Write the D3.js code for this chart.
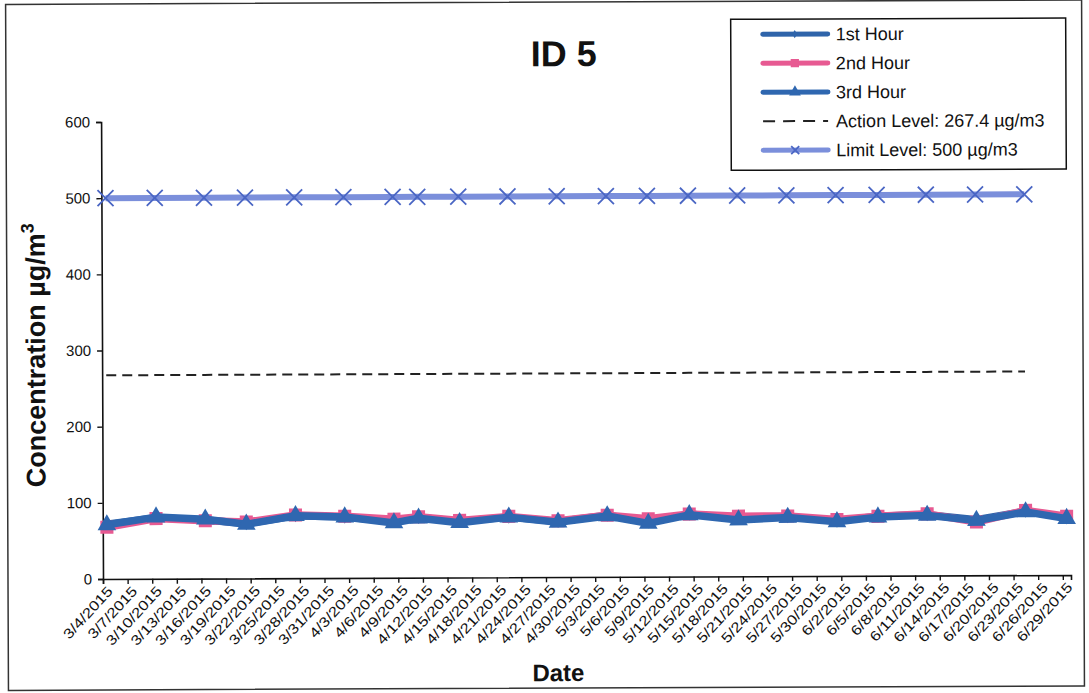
<!DOCTYPE html>
<html>
<head>
<meta charset="utf-8">
<script src="https://cdn.jsdelivr.net/npm/d3@7"></script>
<style>
body { margin: 0; background: #fff; }
text { font-family: Arial, "Liberation Sans", sans-serif; }
</style>
</head>
<body>
<div id="chart"></div>
<script>
// sample days (1-in-6 schedule with a couple of make-ups)
var sampleDates = ["3/4/2015", "3/10/2015", "3/16/2015", "3/21/2015", "3/27/2015", "4/2/2015",
	"4/8/2015", "4/11/2015", "4/16/2015", "4/22/2015", "4/28/2015", "5/4/2015", "5/9/2015",
	"5/14/2015", "5/20/2015", "5/26/2015", "6/1/2015", "6/6/2015", "6/12/2015", "6/18/2015",
	"6/24/2015", "6/29/2015"];
var hour1 = [72, 80, 77, 72, 82, 80, 74, 79, 74, 79, 73, 81, 72, 82, 76, 78, 72, 78, 80, 73, 84, 75];
var hour2 = [68, 79, 76, 74, 83, 81, 77, 80, 75, 80, 74, 81, 76, 82, 79, 79, 74, 78, 81, 70, 85, 77];
var hour3 = [71, 81, 78, 71, 82, 80, 72, 78, 72, 79, 72, 80, 70, 81, 74, 77, 71, 77, 79, 72, 83, 74];
var actionLevel = 267.4;
var limitLevel = 500;
var limitCount = 21; // level lines stop at 6/24
var yTicks = [0, 100, 200, 300, 400, 500, 600];
var legendLabels = ["1st Hour", "2nd Hour", "3rd Hour", "Action Level: 267.4 \u00b5g/m3", "Limit Level: 500 \u00b5g/m3"];

var W = 1089, H = 693;
var parse = d3.timeParse("%m/%d/%Y");
var fmt = d3.timeFormat("%-m/%-d/%Y");
var dates = sampleDates.map(parse);
var start = parse("3/4/2015"), end = parse("6/30/2015");
var tickDates = d3.timeDay.range(start, end, 3);

var x = d3.scaleTime().domain([start, end]).range([103, 1071]);
var y = d3.scaleLinear().domain([0, 600]).range([579, 122]);
// points sit in the middle of their day slot
function px(d) { return x(d3.timeHour.offset(d, 12)); }

var svg = d3.select("#chart").append("svg")
	.attr("width", W)
	.attr("height", H);

// scanned page is a little tilted
var g = svg.append("g").attr("transform", "rotate(-0.24,103,579)");

g.append("rect")
	.attr("x", 8).attr("y", 4)
	.attr("width", 1076).attr("height", 686)
	.style("fill", "none")
	.style("stroke", "#333")
	.style("stroke-width", 1.5);

// y axis
var yAxis = d3.axisLeft(y).tickValues(yTicks).tickSize(5).tickPadding(6);
var ya = g.append("g").attr("transform", "translate(103,0)").call(yAxis);
ya.select(".domain").style("stroke", "#111").style("stroke-width", 1.6);
ya.selectAll(".tick line").style("stroke", "#111").style("stroke-width", 1.4);
ya.selectAll(".tick text").style("font-size", "15px").style("fill", "#111");

// x axis
var xAxis = d3.axisBottom(x).tickValues(tickDates).tickSize(5).tickFormat(fmt);
var xa = g.append("g").attr("class", "x_axis").attr("transform", "translate(0,579)").call(xAxis);
xa.select(".domain").style("stroke", "#111").style("stroke-width", 1.6);
xa.selectAll(".tick line").style("stroke", "#111").style("stroke-width", 1.4);
xa.selectAll(".tick text")
	.style("font-size", "14px")
	.style("fill", "#111")
	.style("text-anchor", "end")
	.attr("dy", null)
	.attr("y", 0)
	.attr("transform", "translate(10,13) rotate(-47) scale(1.2,1)");

// titles
g.append("text")
	.attr("x", 566).attr("y", 68)
	.style("text-anchor", "middle")
	.style("font-weight", "bold")
	.style("font-size", "36px")
	.style("fill", "#111")
	.text("ID 5");

var yt = g.append("text")
	.attr("transform", "translate(46,355) rotate(-90)")
	.style("text-anchor", "middle")
	.style("font-weight", "bold")
	.style("font-size", "27px")
	.style("fill", "#111");
yt.append("tspan").text("Concentration  \u00b5g/m");
yt.append("tspan").attr("dy", -11).style("font-size", "18px").text("3");

g.append("text")
	.attr("x", 558).attr("y", 683)
	.style("text-anchor", "middle")
	.style("font-weight", "bold")
	.style("font-size", "24px")
	.style("fill", "#111")
	.text("Date");

// level lines
var lvlDates = dates.slice(0, limitCount);
var flat = d3.line().x(function(d) { return px(d); });

g.append("path")
	.datum(lvlDates)
	.attr("d", flat.y(function() { return y(actionLevel); }))
	.style("fill", "none")
	.style("stroke", "#222")
	.style("stroke-width", 2)
	.style("stroke-dasharray", "10,6");

g.append("path")
	.datum(lvlDates)
	.attr("d", flat.y(function() { return y(limitLevel); }))
	.style("fill", "none")
	.style("stroke", "#7b8fdb")
	.style("stroke-width", 6);

function xMark(sel, s, col) {
	sel.append("path")
		.attr("d", "M" + (-s) + "," + (-s) + "L" + s + "," + s + "M" + (-s) + "," + s + "L" + s + "," + (-s))
		.style("stroke", col)
		.style("stroke-width", 1.8)
		.style("fill", "none");
}
g.selectAll(".lim").data(lvlDates).enter().append("g")
	.attr("class", "lim")
	.attr("transform", function(d) { return "translate(" + px(d) + "," + y(limitLevel) + ")"; })
	.call(xMark, 8, "#4a66c4");

// hourly series
var series = [
	{ name: "h1", vals: hour1, color: "#2f64aa", mark: d3.symbolDiamond, size: 50 },
	{ name: "h2", vals: hour2, color: "#e75a92", mark: d3.symbolSquare, size: 170 },
	{ name: "h3", vals: hour3, color: "#2f67b0", mark: d3.symbolTriangle, size: 150 }
];

series.forEach(function(s) {
	var line = d3.line()
		.x(function(d, i) { return px(dates[i]); })
		.y(function(d) { return y(d); });
	g.append("path")
		.datum(s.vals)
		.attr("d", line)
		.style("fill", "none")
		.style("stroke", s.color)
		.style("stroke-width", 7.5)
		.style("stroke-linejoin", "round");
	g.selectAll(".m" + s.name).data(s.vals).enter().append("path")
		.attr("class", "m" + s.name)
		.attr("transform", function(d, i) { return "translate(" + px(dates[i]) + "," + y(d) + ")"; })
		.attr("d", d3.symbol().type(s.mark).size(s.size))
		.style("fill", s.color);
});

// legend
var lg = g.append("g");
lg.append("rect")
	.attr("x", 733).attr("y", 22)
	.attr("width", 335).attr("height", 151)
	.style("fill", "#fff")
	.style("stroke", "#111")
	.style("stroke-width", 1.5);

var rowY = d3.scalePoint().domain(d3.range(legendLabels.length)).range([37, 153]);
legendLabels.forEach(function(lab, i) {
	var ly = rowY(i);
	var row = lg.append("g").attr("transform", "translate(0," + ly + ")");
	if (i < 3) {
		var s = series[i];
		row.append("line").attr("x1", 765).attr("x2", 830)
			.style("stroke", s.color).style("stroke-width", 5).style("stroke-linecap", "round");
		row.append("path").attr("transform", "translate(797,0)")
			.attr("d", d3.symbol().type(s.mark).size(s.size * 0.4))
			.style("fill", s.color);
	} else if (i == 3) {
		row.append("line").attr("x1", 765).attr("x2", 830)
			.style("stroke", "#222").style("stroke-width", 2).style("stroke-dasharray", "12,8");
	} else {
		row.append("line").attr("x1", 765).attr("x2", 830)
			.style("stroke", "#7b8fdb").style("stroke-width", 5).style("stroke-linecap", "round");
		row.append("g").attr("transform", "translate(797,0)").call(xMark, 4, "#4a66c4");
	}
	row.append("text")
		.attr("x", 838).attr("y", 0)
		.attr("dy", "0.35em")
		.style("font-size", "18px")
		.style("fill", "#111")
		.text(lab);
});
</script>
</body>
</html>
